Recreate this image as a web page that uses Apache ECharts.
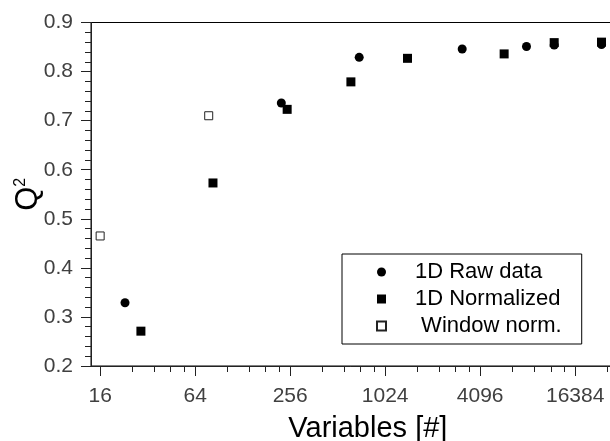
<!DOCTYPE html>
<html>
<head>
<meta charset="utf-8">
<script src="https://cdn.jsdelivr.net/npm/echarts@6/dist/echarts.min.js"></script>
<style>
  html, body { margin: 0; padding: 0; background: #fff; }
  #chart { width: 610px; height: 441px; }
</style>
</head>
<body>
<div id="chart"></div>
<script>
// Q² versus number of variables for three preprocessing variants
const rawVars = [23, 225, 701, 3150, 8050, 12060, 24050];
const rawQ2 = [0.329, 0.736, 0.829, 0.846, 0.851, 0.854, 0.855];

const normVars = [29, 83, 245, 621, 1418, 5810, 12060, 24050];
const normQ2 = [0.271, 0.573, 0.723, 0.779, 0.827, 0.836, 0.859, 0.860];

const winVars = [16, 78];
const winQ2 = [0.465, 0.710];

const seriesNames = ['1D Raw data', '1D Normalized', ' Window norm.'];

// labelled powers of four on the log2 axis
const xTickLabels = [16, 64, 256, 1024, 4096, 16384];
const yTickLabels = [0.2, 0.3, 0.4, 0.5, 0.6, 0.7, 0.8, 0.9];

// linear minor ticks between consecutive labelled values (4 per step of 4x)
const xMinorTicks = [];
xTickLabels.forEach(function (t) {
  for (let j = 1; j <= 4; j++) xMinorTicks.push(t * (1 + 0.6 * j));
});

const pairs = (xs, ys) => xs.map((x, i) => [x, ys[i]]);

const axisColor = '#222';
const labelColor = '#404040';
const fontFamily = "'Liberation Sans', Arial, sans-serif";

const chart = echarts.init(document.getElementById('chart'), null, { renderer: 'canvas' });

chart.setOption({
  animation: false,
  backgroundColor: '#fff',
  grid: {
    left: 91, top: 22.5, bottom: 75, right: -12.7,
    outerBoundsMode: 'none',
    containLabel: false,
    show: true, borderColor: '#000', borderWidth: 1, backgroundColor: 'transparent'
  },
  legend: {
    left: 342, top: 254,
    orient: 'vertical',
    padding: [7, 20, 7, 34],
    itemGap: 5,
    itemWidth: 9, itemHeight: 9,
    borderColor: '#000', borderWidth: 1, borderRadius: 0,
    backgroundColor: '#fff',
    selectedMode: false,
    textStyle: {
      fontFamily: fontFamily, fontSize: 22, color: '#000',
      lineHeight: 21, padding: [0, 0, 0, 24]
    },
    data: seriesNames
  },
  xAxis: [
    {
      type: 'log', logBase: 2, min: 14, max: 32768,
      gridIndex: 0, position: 'bottom',
      name: 'Variables [#]', nameLocation: 'middle', nameGap: 48,
      nameMoveOverlap: false,
      nameTextStyle: { fontFamily: fontFamily, fontSize: 29, color: '#000', padding: [0, 0, 0, 22] },
      axisLine: { show: true, lineStyle: { color: axisColor, width: 1 } },
      axisTick: { show: true, length: 10, customValues: xTickLabels, lineStyle: { color: axisColor } },
      axisLabel: {
        customValues: xTickLabels, margin: 20,
        fontFamily: fontFamily, fontSize: 21, color: labelColor,
        formatter: v => String(Math.round(v))
      },
      minorTick: { show: false },
      splitLine: { show: false }
    },
    {
      type: 'log', logBase: 2, min: 14, max: 32768,
      gridIndex: 0, position: 'bottom',
      axisLine: { show: false },
      axisTick: { show: true, length: 6, customValues: xMinorTicks, lineStyle: { color: axisColor } },
      axisLabel: { show: false },
      splitLine: { show: false }
    }
  ],
  yAxis: {
    type: 'value', min: 0.2, max: 0.9, interval: 0.1,
    name: 'Q{s|2}', nameLocation: 'middle', nameGap: 47,
    nameMoveOverlap: false,
    nameTextStyle: {
      fontFamily: fontFamily, fontSize: 31, color: '#000',
      rich: { s: { fontFamily: fontFamily, fontSize: 16, color: '#000', verticalAlign: 'top' } }
    },
    axisLine: { show: true, lineStyle: { color: axisColor, width: 1 } },
    axisTick: { show: true, length: 10, lineStyle: { color: axisColor } },
    minorTick: { show: true, splitNumber: 5, length: 6, lineStyle: { color: axisColor } },
    axisLabel: {
      margin: 18, fontFamily: fontFamily, fontSize: 21, color: labelColor,
      formatter: v => v.toFixed(1)
    },
    splitLine: { show: false }
  },
  series: [
    {
      name: seriesNames[0], type: 'scatter', xAxisIndex: 0,
      symbol: 'circle', symbolSize: 9,
      itemStyle: { color: '#000', opacity: 1 },
      data: pairs(rawVars, rawQ2)
    },
    {
      name: seriesNames[1], type: 'scatter', xAxisIndex: 0,
      symbol: 'rect', symbolSize: 9,
      itemStyle: { color: '#000', opacity: 1 },
      data: pairs(normVars, normQ2)
    },
    {
      name: seriesNames[2], type: 'scatter', xAxisIndex: 0,
      symbol: 'rect', symbolSize: 8,
      itemStyle: { color: '#fff', borderColor: '#222', borderWidth: 1, opacity: 1 },
      data: pairs(winVars, winQ2)
    }
  ]
});
</script>
</body>
</html>
